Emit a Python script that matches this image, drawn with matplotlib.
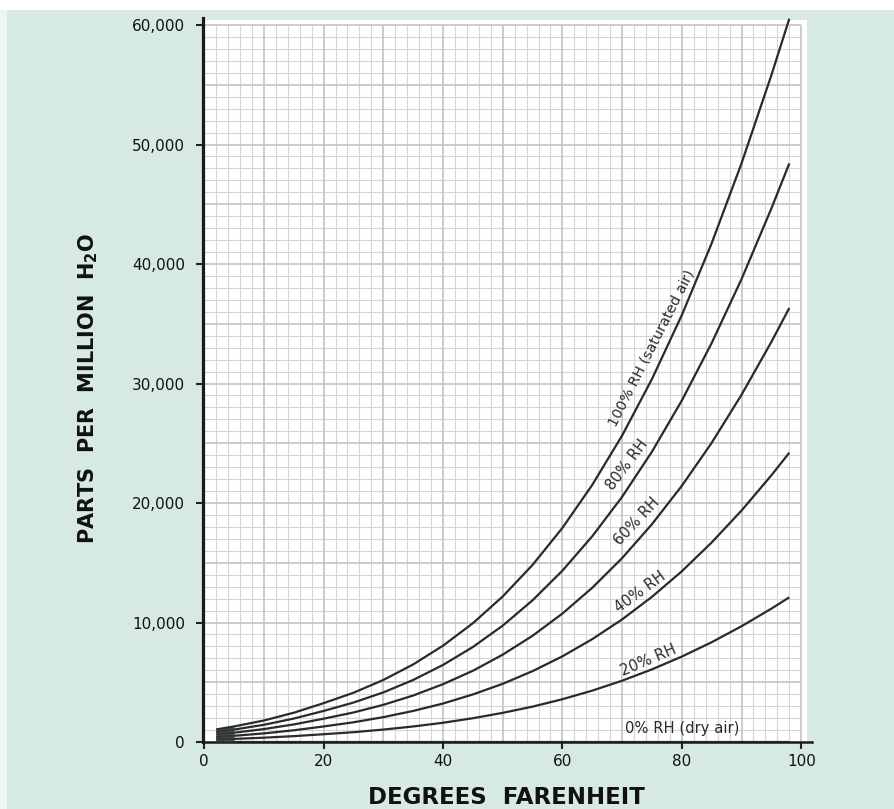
import matplotlib
matplotlib.use("Agg")
import matplotlib.pyplot as plt
from matplotlib.ticker import FuncFormatter
from matplotlib.patches import Rectangle

plt.rcParams['font.family'] = ['DejaVu Sans']

# Data (degrees F vs parts per million H2O)
temps_f = [2, 5, 10, 15, 20, 25, 30, 35, 40, 45, 50, 55, 60, 65, 70, 75, 80, 85, 90, 95, 98]
rh100 = [1050, 1300, 1800, 2450, 3250, 4120, 5190, 6490, 8060, 9940, 12180, 14820, 17920,
         21520, 25650, 30380, 35730, 41740, 48430, 55810, 60530]
rh80 = [840, 1040, 1440, 1960, 2600, 3300, 4150, 5190, 6450, 7950, 9740, 11860, 14340,
        17220, 20520, 24300, 28580, 33390, 38740, 44650, 48420]
rh60 = [630, 780, 1080, 1470, 1950, 2470, 3110, 3890, 4840, 5960, 7310, 8890, 10750,
        12910, 15390, 18230, 21440, 25040, 29060, 33490, 36320]
rh40 = [420, 520, 720, 980, 1300, 1650, 2080, 2600, 3220, 3980, 4870, 5930, 7170,
        8610, 10260, 12150, 14290, 16700, 19370, 22320, 24210]
rh20 = [210, 260, 360, 490, 650, 820, 1040, 1300, 1610, 1990, 2440, 2960, 3580,
        4300, 5130, 6080, 7150, 8350, 9690, 11160, 12110]
rh0 = [0] * len(temps_f)

series = [rh100, rh80, rh60, rh40, rh20, rh0]
curve_labels = ["100% RH (saturated air)", "80% RH", "60% RH", "40% RH", "20% RH", "0% RH (dry air)"]
x_ticks = [0, 20, 40, 60, 80, 100]
y_ticks = [0, 10000, 20000, 30000, 40000, 50000, 60000]

W, H = 895, 809
fig = plt.figure(figsize=(W / 100, H / 100), dpi=100, facecolor='#d6e9e5')
# scan borders
fig.patches.append(Rectangle((0, 1 - 10 / H), 1, 10 / H, transform=fig.transFigure,
                             facecolor='white', edgecolor='none', zorder=0))
fig.patches.append(Rectangle((0, 0), 7 / W, 1 - 10 / H, transform=fig.transFigure,
                             facecolor='#eef5f3', edgecolor='none', zorder=0))

ax = fig.add_axes([203 / W, (H - 742) / H, 609 / W, 724 / H])
ax.set_facecolor('none')
ax.set_xlim(-0.2, 101.8)
ax.set_ylim(0, 60590)

# white graph paper
ax.add_patch(Rectangle((0, 0), 101.0, 60400, facecolor='white', edgecolor='none', zorder=0))
# graph paper grid (minor every 2 F / 1000 ppm, major every 10 F / 5000 ppm)
gx_minor = [v for v in range(0, 101, 2) if v % 10]
gy_minor = [v for v in range(0, 60001, 1000) if v % 5000]
ax.vlines(gx_minor, 0, 60000, colors='#d6d6d6', lw=0.8, zorder=1)
ax.hlines(gy_minor, 0, 100, colors='#d6d6d6', lw=0.8, zorder=1)
ax.vlines(list(range(10, 101, 10)), 0, 60000, colors='#c4c4c4', lw=1.2, zorder=1)
ax.hlines(list(range(5000, 60001, 5000)), 0, 100, colors='#c4c4c4', lw=1.2, zorder=1)

ax.set_xticks(x_ticks)
ax.set_yticks(y_ticks)
ax.yaxis.set_major_formatter(FuncFormatter(lambda v, p: f"{int(v):,}"))
ax.tick_params(direction='out', length=5, width=1.5, color='#222222',
               labelsize=11, labelcolor='#111111')
ax.tick_params(axis='y', pad=8)
ax.tick_params(axis='x', pad=4)

for s in ['top', 'right']:
    ax.spines[s].set_visible(False)
ax.spines['left'].set_linewidth(2.3)
ax.spines['left'].set_color('#1a1a1a')
ax.spines['bottom'].set_linewidth(1.8)
ax.spines['bottom'].set_color('#1a1a1a')

for ys in series:
    ax.plot(temps_f, ys, color='#2a2a2a', lw=1.6, zorder=3, solid_capstyle='butt',
            solid_joinstyle='round')
# dark blob where the curves converge near the origin
ax.fill_between(temps_f[:2], rh0[:2], rh100[:2], color='#2f3a38', alpha=0.85, lw=0, zorder=3)

# curve labels (x, y, angle, size)
label_pos = [(74.9, 33000, 63, 10.3), (70.9, 23200, 53, 10.6), (72.4, 18500, 47, 10.6),
             (73.0, 12550, 36, 10.6), (74.4, 6800, 23, 10.6), (80.1, 1170, 0, 10.6)]
for text, (lx, ly, ang, fs) in zip(curve_labels, label_pos):
    ax.text(lx, ly, text, rotation=ang, rotation_mode='anchor', ha='center', va='center',
            fontsize=fs, color='#2a2a2a', zorder=4)

fig.text(506 / W, 1 - 798 / H, "DEGREES  FARENHEIT", ha='center', va='center',
         fontsize=16.5, fontweight='bold', color='#111111')
fig.text(88 / W, 1 - 388 / H, "PARTS  PER  MILLION  H$_\\mathbf{2}$O", ha='center', va='center',
         rotation=90, fontsize=15, fontweight='bold', color='#111111')

fig.savefig("out.png", dpi=100, facecolor=fig.get_facecolor())
